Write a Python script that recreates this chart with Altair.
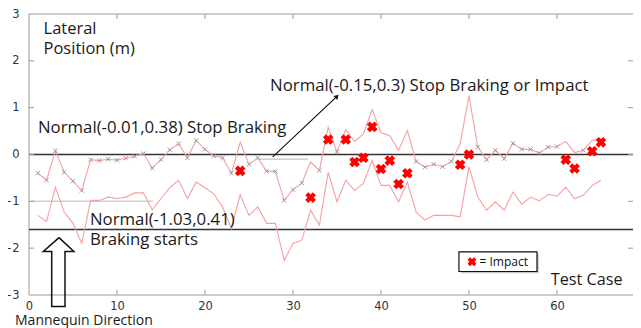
import altair as alt
import pandas as pd

# ---------------- data ----------------
cases = list(range(1, 66))
upper = [-0.40, -0.55, 0.08, -0.38, -0.57, -0.77, -0.11, -0.13, -0.10, -0.12,
         -0.08, -0.04, 0.02, -0.29, -0.11, 0.10, 0.23, -0.07, 0.30, 0.11,
         -0.03, -0.07, -0.40, 0.26, -0.21, -0.07, -0.36, -0.36, -0.98, -0.75,
         -0.61, -0.16, -0.34, 0.58, 0.06, 0.53, 0.28, 0.44, 0.96, 0.47,
         0.40, 0.09, 0.51, -0.15, -0.27, -0.21, -0.26, -0.15, 0.23, 1.26,
         0.16, -0.11, 0.09, -0.09, 0.24, 0.11, 0.11, 0.03, 0.16, 0.17,
         0.28, 0.04, 0.09, 0.30, 0.33]
lower = [-1.30, -1.43, -0.70, -1.23, -1.47, -1.90, -0.98, -0.98, -0.91, -0.94,
         -0.91, -0.82, -0.82, -1.18, -0.94, -0.71, -0.55, -0.94, -0.59, -0.71,
         -0.84, -1.12, -1.58, -0.86, -1.30, -1.12, -1.47, -1.47, -2.26, -1.90,
         -1.83, -1.19, -1.51, -0.38, -1.01, -0.55, -0.77, -0.62, -0.13, -0.66,
         -0.66, -1.01, -0.59, -1.23, -1.40, -1.30, -1.30, -1.30, -1.33, -0.26,
         -0.91, -1.19, -1.01, -1.19, -0.80, -1.06, -0.91, -0.99, -0.85, -0.89,
         -0.70, -0.94, -0.87, -0.66, -0.55]
impact_cases = [24, 32, 34, 36, 37, 38, 39, 40, 41, 42, 43, 49, 50, 61, 62, 64, 65]
impact_y = [-0.35, -0.92, 0.32, 0.32, -0.16, -0.07, 0.59, -0.31, -0.13, -0.63,
            -0.40, -0.22, 0.00, -0.11, -0.30, 0.07, 0.26]

ref_lines_y = [0.0, -1.6]
mean_seg_x = [0.15, 26.0]
mean_seg_x2 = [14.1, 31.7]
mean_seg_y = [-1.0, -0.1]

x_tick_labels = [0, 10, 20, 30, 40, 50, 60]
y_tick_labels = [-3, -2, -1, 0, 1, 2, 3]
x_ticks = [10, 20, 30, 40, 50, 60]
y_ticks = [-2, -1, 0, 1, 2]
x_max = 68.64   # visible part of the 0..70 axis (the original is cropped at the right)

ann_text = ["Normal(-0.01,0.38) Stop Braking", "Normal(-0.15,0.3) Stop Braking or Impact",
            "Normal(-1.03,0.41)", "Braking starts", "Lateral", "Position (m)",
            "Test Case", "Mannequin Direction"]
ann_x = [1.02, 27.4, 6.93, 6.93, 1.65, 1.65, 59.3, -1.59]
ann_y = [0.56, 1.47, -1.39, -1.82, 2.68, 2.26, -2.67, -3.55]
ann_fs = [16.8, 16.8, 16.8, 16.8, 16.5, 16.5, 16.2, 14]

arrow_x = [27.7, 35.0]
arrow_y = [-0.05, 1.24]

big_arrow_x = [3.41, 5.10, 4.09, 4.09, 2.58, 2.58, 1.625, 3.41]
big_arrow_y = [-1.774, -2.072, -2.072, -3.243, -3.243, -2.072, -2.072, -1.774]

legend_box = dict(x=48.86, x2=57.73, y=-2.079, y2=-2.498)
legend_mark = dict(x=50.34, y=-2.29)
legend_label = dict(x=51.2, y=-2.29, text="= Impact")

# ---------------- frames ----------------
df_main = pd.DataFrame({"x": cases, "up": upper, "lo": lower})
df_gray = pd.DataFrame({"x": [c for c in cases if c not in impact_cases],
                        "y": [u for c, u in zip(cases, upper) if c not in impact_cases]})
df_imp = pd.DataFrame({"x": impact_cases, "y": impact_y})
df_ref = pd.DataFrame({"y": ref_lines_y, "x": [0] * 2, "x2": [x_max] * 2})
df_seg = pd.DataFrame({"x": mean_seg_x, "x2": mean_seg_x2, "y": mean_seg_y})
df_ann = pd.DataFrame({"x": ann_x, "y": ann_y, "t": ann_text, "fs": ann_fs})
df_arrow = pd.DataFrame({"x": arrow_x, "y": arrow_y, "o": [0, 1]})
df_head = pd.DataFrame({"x": [arrow_x[1]], "y": [arrow_y[1]]})
df_big = pd.DataFrame({"x": big_arrow_x, "y": big_arrow_y, "o": list(range(len(big_arrow_x)))})
df_tb = pd.DataFrame({"x": x_ticks, "y": [-3] * 6, "y2": [-2.893] * 6})
df_tt = pd.DataFrame({"x": x_ticks, "y": [3] * 6, "y2": [2.893] * 6})
df_tl = pd.DataFrame({"y": y_ticks, "x": [0] * 5, "x2": [0.57] * 5})
df_tr = pd.DataFrame({"y": y_ticks, "x": [x_max] * 5, "x2": [x_max - 0.57] * 5})
df_hframe = pd.DataFrame({"y": [3, -3], "x": [0, 0], "x2": [x_max, x_max]})
df_vframe = pd.DataFrame({"x": [0], "y": [-3], "y2": [3]})

xs = alt.Scale(domain=[0, x_max], nice=False, zero=False)
ys = alt.Scale(domain=[-3, 3], nice=False, zero=False)
AX = alt.Axis(values=x_tick_labels, labelPadding=5, labelFlush=False, title=None)
AY = alt.Axis(values=y_tick_labels, labelPadding=10, labelFlush=False, title=None)


def X(f="x"):
    return alt.X(f"{f}:Q", scale=xs, axis=AX, title=None)


def Y(f="y"):
    return alt.Y(f"{f}:Q", scale=ys, axis=AY, title=None)


PINK = "#f7a0a0"
TK = "#999"

hframe = alt.Chart(df_hframe).mark_rule(color=TK, strokeWidth=1).encode(x=X(), x2="x2", y=Y())
vframe = alt.Chart(df_vframe).mark_rule(color=TK, strokeWidth=1).encode(x=X(), y=Y(), y2="y2")

ref = alt.Chart(df_ref).mark_rule(color="#333", strokeWidth=1.4).encode(x=X(), x2="x2", y=Y())
seg = alt.Chart(df_seg).mark_rule(color="#cfcfcf", strokeWidth=1.5).encode(x=X(), x2="x2", y=Y())

line_up = alt.Chart(df_main).mark_line(color=PINK, strokeWidth=1.1).encode(x=X(), y=Y("up"))
line_lo = alt.Chart(df_main).mark_line(color=PINK, strokeWidth=1.1).encode(x=X(), y=Y("lo"))

gray_pts = alt.Chart(df_gray).mark_point(
    shape="M-1,-1L1,1M-1,1L1,-1", filled=False, stroke="#999999", strokeWidth=1, size=18, opacity=1
).encode(x=X(), y=Y())

imp_pts = alt.Chart(df_imp).mark_point(
    shape="cross", angle=45, filled=True, color="#ff0000", size=115, opacity=1
).encode(x=X(), y=Y())

arrow = alt.Chart(df_arrow).mark_line(color="#111", strokeWidth=1.2).encode(x=X(), y=Y(), order="o:Q")
head = alt.Chart(df_head).mark_point(
    shape="triangle-up", angle=46, filled=True, color="#111", size=28, opacity=1
).encode(x=X(), y=Y())

big = alt.Chart(df_big).mark_line(color="#111", strokeWidth=1.5).encode(x=X(), y=Y(), order="o:Q")

texts = alt.Chart(df_ann).mark_text(
    align="left", baseline="middle", font="Open Sans", color="#1a1a1a"
).encode(x=X(), y=Y(), text="t:N", size=alt.Size("fs:Q", scale=None, legend=None))

tk_bot = alt.Chart(df_tb).mark_rule(color=TK).encode(x=X(), y=Y(), y2="y2")
tk_top = alt.Chart(df_tt).mark_rule(color=TK).encode(x=X(), y=Y(), y2="y2")
tk_left = alt.Chart(df_tl).mark_rule(color=TK).encode(y=Y(), x=X(), x2="x2")
tk_right = alt.Chart(df_tr).mark_rule(color=TK).encode(y=Y(), x=X(), x2="x2")

lb = legend_box
df_lshadow = pd.DataFrame({"x": [lb["x"] + 0.2], "x2": [lb["x2"] + 0.2],
                           "y": [lb["y"] - 0.04], "y2": [lb["y2"] - 0.04]})
df_lbox = pd.DataFrame({k: [v] for k, v in lb.items()})
leg_shadow = alt.Chart(df_lshadow).mark_rect(color="#c8c8c8").encode(x=X(), x2="x2", y=Y(), y2="y2")
leg_box = alt.Chart(df_lbox).mark_rect(fill="white", stroke="#111", strokeWidth=1.2).encode(
    x=X(), x2="x2", y=Y(), y2="y2")
leg_mark = alt.Chart(pd.DataFrame({"x": [legend_mark["x"]], "y": [legend_mark["y"]]})).mark_point(
    shape="cross", angle=45, filled=True, color="#ff0000", size=80, opacity=1
).encode(x=X(), y=Y())
leg_text = alt.Chart(pd.DataFrame({"x": [legend_label["x"]], "y": [legend_label["y"]],
                                   "t": [legend_label["text"]]})).mark_text(
    align="left", baseline="middle", font="Open Sans", fontSize=12, color="#111"
).encode(x=X(), y=Y(), text="t:N")

chart = alt.layer(
    hframe, vframe, seg, ref, line_lo, line_up, gray_pts, imp_pts, arrow, head, big, texts,
    tk_bot, tk_top, tk_left, tk_right, leg_shadow, leg_box, leg_mark, leg_text
).properties(
    width=604, height=281,
    autosize=alt.AutoSizeParams(type="none"),
    padding={"left": 21, "top": 6, "right": 0, "bottom": 34},
    background="white",
).configure_view(
    strokeWidth=0
).configure_axis(
    grid=False, domain=False, ticks=False,
    labelFont="DejaVu Sans", labelFontSize=11.5, labelColor="#333"
)

chart.save("out.html", embed_options={"renderer": "svg", "actions": False})
